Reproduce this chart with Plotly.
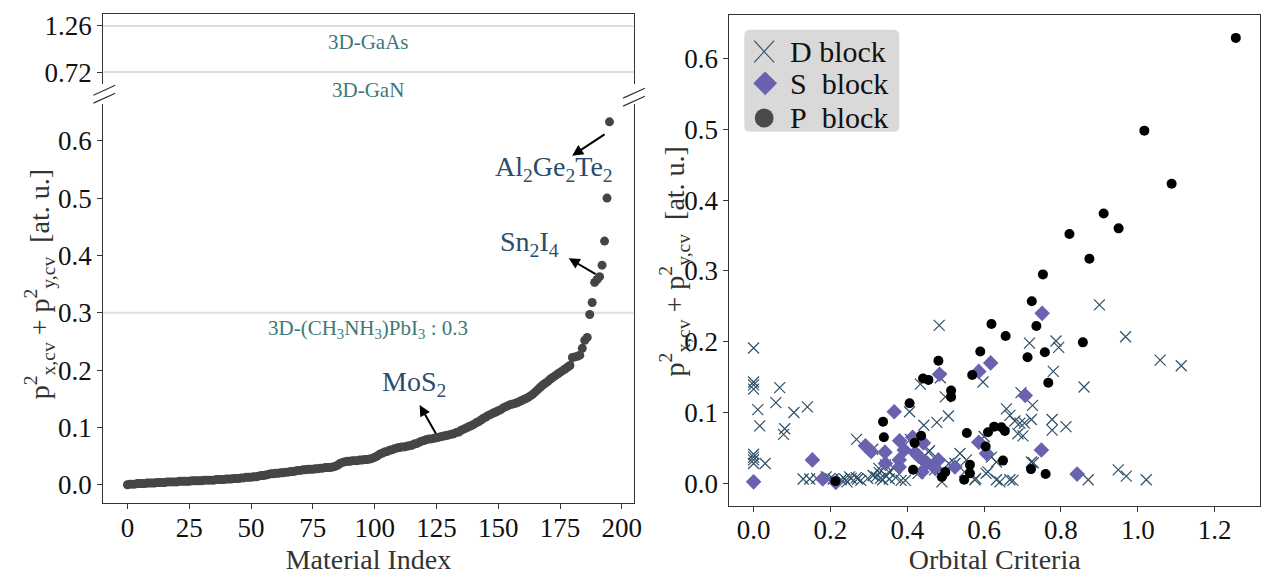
import plotly.graph_objects as go

# ---------------- data ----------------
curve_values = [
    0.000, 0.001, 0.001, 0.001, 0.002, 0.002, 0.002, 0.002, 0.003, 0.003,
    0.003, 0.003, 0.004, 0.004, 0.004, 0.004, 0.005, 0.005, 0.005, 0.005,
    0.005, 0.006, 0.006, 0.006, 0.006, 0.006, 0.007, 0.007, 0.007, 0.007,
    0.007, 0.008, 0.008, 0.008, 0.008, 0.008, 0.009, 0.009, 0.009, 0.009,
    0.010, 0.010, 0.010, 0.011, 0.011, 0.011, 0.012, 0.012, 0.013, 0.013,
    0.013, 0.014, 0.014, 0.015, 0.016, 0.016, 0.017, 0.018, 0.019, 0.019,
    0.020, 0.020, 0.021, 0.021, 0.022, 0.022, 0.023, 0.023, 0.024, 0.025,
    0.025, 0.026, 0.026, 0.027, 0.027, 0.027, 0.028, 0.028, 0.029, 0.029,
    0.030, 0.030, 0.030, 0.031, 0.032, 0.034, 0.037, 0.039, 0.040, 0.041,
    0.041, 0.042, 0.042, 0.042, 0.043, 0.043, 0.044, 0.044, 0.045, 0.046,
    0.048, 0.050, 0.053, 0.055, 0.057, 0.058, 0.060, 0.061, 0.063, 0.064,
    0.065, 0.066, 0.066, 0.067, 0.068, 0.069, 0.071, 0.072, 0.074, 0.076,
    0.077, 0.079, 0.080, 0.080, 0.081, 0.082, 0.083, 0.084, 0.085, 0.086,
    0.087, 0.088, 0.089, 0.091, 0.092, 0.095, 0.097, 0.099, 0.101, 0.103,
    0.105, 0.108, 0.110, 0.113, 0.116, 0.118, 0.121, 0.123, 0.125, 0.127,
    0.129, 0.131, 0.134, 0.136, 0.138, 0.140, 0.141, 0.142, 0.144, 0.146,
    0.148, 0.150, 0.152, 0.155, 0.158, 0.162, 0.166, 0.170, 0.174, 0.177,
    0.180, 0.184, 0.187, 0.190, 0.193, 0.196, 0.199, 0.202, 0.205, 0.208,
    0.222, 0.223, 0.224, 0.226, 0.238, 0.252, 0.257, 0.297, 0.318, 0.353,
    0.358, 0.363, 0.383, 0.425, 0.500, 0.633,
]
material_index = list(range(len(curve_values)))

p_x = [1.255, 1.017, 1.088, 0.911, 0.950, 0.822, 0.874, 0.753, 0.724, 0.619,
       0.736, 0.656, 0.857, 0.758, 0.590, 0.713, 0.481, 0.569, 0.441, 0.455,
       0.767, 0.514, 0.514, 0.406, 0.337, 0.339, 0.436, 0.419, 0.555, 0.610,
       0.626, 0.645, 0.654, 0.604, 0.649, 0.415, 0.563, 0.563, 0.499, 0.490,
       0.548, 0.722, 0.760, 0.213]
p_y = [0.629, 0.498, 0.423, 0.381, 0.360, 0.352, 0.317, 0.295, 0.257, 0.225,
       0.222, 0.208, 0.199, 0.185, 0.186, 0.178, 0.173, 0.153, 0.148, 0.146,
       0.142, 0.131, 0.122, 0.113, 0.087, 0.065, 0.067, 0.057, 0.071, 0.072,
       0.080, 0.079, 0.074, 0.052, 0.032, 0.019, 0.026, 0.014, 0.016, 0.009,
       0.005, 0.020, 0.013, 0.003]

s_x = [0.751, 0.617, 0.586, 0.484, 0.707, 0.366, 0.380, 0.392, 0.414, 0.442,
       0.421, 0.430, 0.342, 0.291, 0.306, 0.343, 0.379, 0.379, 0.451, 0.481,
       0.524, 0.438, 0.473, 0.586, 0.606, 0.749, 0.842, 0.153, 0.000, 0.214,
       0.180]
s_y = [0.240, 0.170, 0.158, 0.154, 0.124, 0.101, 0.060, 0.047, 0.065, 0.057,
       0.043, 0.038, 0.044, 0.053, 0.045, 0.028, 0.033, 0.023, 0.029, 0.033,
       0.023, 0.016, 0.021, 0.058, 0.042, 0.047, 0.013, 0.033, 0.002, 0.001,
       0.006]

d_x = [0.000, 0.000, 0.000, 0.000, 0.068, 0.058, 0.011, 0.140, 0.105, 0.016,
       0.081, 0.078, 0.000, 0.000, 0.000, 0.000, 0.030, 0.268, 0.310, 0.327,
       0.129, 0.146, 0.164, 0.189, 0.199, 0.207, 0.228, 0.237, 0.243, 0.254,
       0.250, 0.267, 0.271, 0.279, 0.297, 0.311, 0.319, 0.330, 0.336, 0.345,
       0.353, 0.370, 0.384, 0.395, 0.483, 0.718, 0.597, 0.434, 0.486, 0.499,
       0.696, 0.406, 0.507, 0.477, 0.443, 0.658, 0.667, 0.680, 0.693, 0.705,
       0.688, 0.701, 0.455, 0.537, 0.554, 0.619, 0.632, 0.610, 0.343, 0.352,
       0.490, 0.524, 0.576, 0.632, 0.641, 0.667, 0.675, 0.723, 0.900, 0.787,
       0.794, 0.968, 1.058, 1.113, 0.780, 0.860, 0.726, 0.723, 0.777, 0.777,
       0.813, 0.728, 0.871, 0.949, 0.970, 1.022, 0.428, 0.442, 0.471, 0.549,
       0.605, 0.578, 0.458, 0.508, 0.365, 0.326, 0.408, 0.600]
d_y = [0.191, 0.143, 0.139, 0.133, 0.135, 0.114, 0.104, 0.108, 0.100, 0.081,
       0.077, 0.069, 0.041, 0.037, 0.033, 0.028, 0.028, 0.062, 0.048, 0.015,
       0.006, 0.006, 0.007, 0.009, 0.007, 0.006, 0.005, 0.006, 0.002, 0.007,
       0.009, 0.008, 0.006, 0.004, 0.007, 0.011, 0.009, 0.007, 0.005, 0.010,
       0.006, 0.008, 0.004, 0.004, 0.223, 0.198, 0.143, 0.140, 0.149, 0.122,
       0.128, 0.101, 0.095, 0.086, 0.082, 0.105, 0.096, 0.088, 0.085, 0.085,
       0.070, 0.067, 0.044, 0.042, 0.033, 0.037, 0.030, 0.016, 0.026, 0.016,
       0.002, 0.028, 0.005, 0.005, 0.002, 0.005, 0.004, 0.030, 0.252, 0.201,
       0.192, 0.207, 0.174, 0.166, 0.158, 0.136, 0.110, 0.090, 0.090, 0.075,
       0.080, 0.029, 0.005, 0.019, 0.010, 0.005, 0.014, 0.023, 0.019, 0.016,
       0.014, 0.007, 0.046, 0.028, 0.021, 0.021, 0.062, 0.066]

ref_values_top = [1.26, 0.72]
ref_labels_top = ["3D-GaAs", "3D-GaN"]
ref_value_low = 0.3
ref_label_low = "3D-(CH<sub>3</sub>NH<sub>3</sub>)PbI<sub>3</sub> : 0.3"

legend_names = ["D block", "S\u00a0\u00a0block", "P\u00a0\u00a0block"]

# annotation geometry (text position, arrow head, arrow tail) in data units
ann_texts = ["Al<sub>2</sub>Ge<sub>2</sub>Te<sub>2</sub>", "Sn<sub>2</sub>I<sub>4</sub>", "MoS<sub>2</sub>"]
ann_text_pos = [(172.7, 0.551), (162.7, 0.421), (116.0, 0.176)]
ann_head = [(179.9, 0.574), (178.5, 0.395), (118.2, 0.139)]
ann_tail = [(193.6, 0.613), (190.0, 0.366), (125.1, 0.087)]

# ---------------- style ----------------
FONT = "Liberation Serif, Times New Roman, serif"
W, H = 1271, 575
AX = "#333333"
D_COL = "#2e5068"
S_COL = "#6a62ae"

fig = go.Figure()

fig.add_trace(go.Scatter(x=material_index, y=curve_values, mode="markers",
                         marker=dict(size=9, color="#454545"),
                         xaxis="x", yaxis="y", showlegend=False))

fig.add_trace(go.Scatter(x=d_x, y=d_y, mode="markers", name=legend_names[0],
                         marker=dict(symbol="x-thin", size=11, color=D_COL,
                                     line=dict(width=1.2, color=D_COL)),
                         xaxis="x3", yaxis="y3", showlegend=False))
fig.add_trace(go.Scatter(x=s_x, y=s_y, mode="markers", name=legend_names[1],
                         marker=dict(symbol="diamond", size=12, color=S_COL),
                         xaxis="x3", yaxis="y3", showlegend=False))
fig.add_trace(go.Scatter(x=p_x, y=p_y, mode="markers", name=legend_names[2],
                         marker=dict(symbol="circle", size=10, color="black"),
                         xaxis="x3", yaxis="y3", showlegend=False))


def px(X):
    return X / W


def py(Y):
    return 1 - Y / H


tickfont = dict(family=FONT, size=27, color="#111111")
common = dict(showline=True, linecolor=AX, linewidth=1.2, ticks="outside",
              ticklen=5, tickcolor=AX, showgrid=False, zeroline=False,
              tickfont=tickfont)
xcommon = dict(common, ticklabelstandoff=-5)

left_dom = [px(104), px(637.6)]
fig.update_layout(
    width=W, height=H, margin=dict(l=0, r=0, t=0, b=0),
    paper_bgcolor="white", plot_bgcolor="white",
    font=dict(family=FONT, color="#111111"),
    showlegend=False,
    xaxis=dict(domain=left_dom, anchor="y", range=[-9.75, 204.75],
               tickvals=[0, 25, 50, 75, 100, 125, 150, 175, 200],
               title=dict(text="Material Index", font=dict(family=FONT, size=28, color="#333333"),
                          standoff=10),
               **xcommon),
    yaxis=dict(domain=[py(505.5), py(102.4)], anchor="x", range=[-0.032, 0.665],
               tickvals=[0, 0.1, 0.2, 0.3, 0.4, 0.5, 0.6], tickformat=".1f",
               mirror=True, **common),
    xaxis2=dict(domain=left_dom, anchor="y2", range=[-9.75, 204.75], side="top",
                showline=True, linecolor=AX, linewidth=1.2, showticklabels=False,
                ticks="", showgrid=False, zeroline=False),
    yaxis2=dict(domain=[py(83), py(12)], anchor="x2", range=[0.578, 1.40],
                tickvals=ref_values_top, ticktext=["1.26", "0.72"],
                mirror=True, **common),
    xaxis3=dict(domain=[px(734), px(1268)], anchor="y3", range=[-0.063, 1.318],
                tickvals=[0, 0.2, 0.4, 0.6, 0.8, 1.0, 1.2], tickformat=".1f",
                mirror=True,
                title=dict(text="Orbital Criteria", font=dict(family=FONT, size=28, color="#333333"),
                           standoff=2),
                **xcommon),
    yaxis3=dict(domain=[py(508), py(13)], anchor="x3", range=[-0.0315, 0.6615],
                tickvals=[0, 0.1, 0.2, 0.3, 0.4, 0.5, 0.6], tickformat=".1f",
                mirror=True, **common),
)

# reference lines
line_col = "#d3e3e3"
for v in ref_values_top:
    fig.add_shape(type="line", xref="x2 domain", yref="y2", x0=0, x1=1, y0=v, y1=v,
                  line=dict(color=line_col, width=2), layer="below")
fig.add_shape(type="line", xref="x domain", yref="y", x0=0, x1=1,
              y0=ref_value_low, y1=ref_value_low,
              line=dict(color=line_col, width=2), layer="below")

lab_col = "#3e7878"
fig.add_annotation(xref="x2 domain", yref="y2", x=0.5, y=ref_values_top[0], text=ref_labels_top[0],
                   showarrow=False, yanchor="top", yshift=-2,
                   font=dict(family=FONT, size=21, color=lab_col))
fig.add_annotation(xref="x2 domain", yref="y2", x=0.5, y=ref_values_top[1], text=ref_labels_top[1],
                   showarrow=False, yanchor="top", yshift=-4,
                   font=dict(family=FONT, size=21, color=lab_col))
fig.add_annotation(xref="x domain", yref="y", x=0.5, y=ref_value_low, text=ref_label_low,
                   showarrow=False, yanchor="top", yshift=-1,
                   font=dict(family=FONT, size=21, color=lab_col))

# labelled arrows
txt_col = "#2b4d6b"
for t, (tx, ty), (hx, hy), (sx, sy) in zip(ann_texts, ann_text_pos, ann_head, ann_tail):
    fig.add_annotation(xref="x", yref="y", x=tx, y=ty, text=t, showarrow=False,
                       font=dict(family=FONT, size=28, color=txt_col))
    fig.add_annotation(xref="x", yref="y", x=hx, y=hy, ax=sx, ay=sy,
                       axref="x", ayref="y", text="", showarrow=True,
                       arrowhead=2, arrowsize=1.1, arrowwidth=2, arrowcolor="black")

# y-axis titles
ytitle = "p<sup>2</sup><sub>x,cv</sub> + p<sup>2</sup><sub>y,cv</sub>  [at. u.]"
for cx, cy in [(40, 285), (679, 262)]:
    fig.add_annotation(xref="paper", yref="paper", x=px(cx), y=py(cy), text=ytitle,
                       textangle=-90, showarrow=False, xanchor="center", yanchor="middle",
                       font=dict(family=FONT, size=28, color="#333333"))

# broken-axis marks
for cx, cy in [(105, 89), (105, 97), (638, 92), (638, 100)]:
    fig.add_shape(type="line", xref="paper", yref="paper",
                  x0=px(cx - 11), y0=py(cy + 5), x1=px(cx + 11), y1=py(cy - 5),
                  line=dict(color=AX, width=1.2))

# ---------------- legend box (drawn) ----------------
lx0, ly0, lx1, ly1, r = 749, 28, 905, 131, 6
pts = [("M", lx0 + r, ly0), ("L", lx1 - r, ly0), ("Q", lx1, ly0, lx1, ly0 + r),
       ("L", lx1, ly1 - r), ("Q", lx1, ly1, lx1 - r, ly1), ("L", lx0 + r, ly1),
       ("Q", lx0, ly1, lx0, ly1 - r), ("L", lx0, ly0 + r), ("Q", lx0, ly0, lx0 + r, ly0)]
path = ""
for p in pts:
    if p[0] == "Q":
        path += f"Q {px(p[1])},{py(p[2])} {px(p[3])},{py(p[4])} "
    else:
        path += f"{p[0]} {px(p[1])},{py(p[2])} "
path += "Z"
fig.add_shape(type="path", xref="paper", yref="paper", path=path,
              fillcolor="#d9d9d9", line=dict(width=0), layer="above")

row_y = [50, 82, 117]
mx = 769
# D marker (thin x)
for (a, b, c, d) in [(-10, -11, 10, 11), (-10, 11, 10, -11)]:
    fig.add_shape(type="line", xref="paper", yref="paper",
                  x0=px(mx + a), y0=py(row_y[0] + b), x1=px(mx + c), y1=py(row_y[0] + d),
                  line=dict(color=D_COL, width=1.1))
# S marker (diamond)
dy = row_y[1]
fig.add_shape(type="path", xref="paper", yref="paper",
              path=f"M {px(mx + 1)},{py(dy - 12)} L {px(mx + 13)},{py(dy)} "
                   f"L {px(mx + 1)},{py(dy + 12)} L {px(mx - 11)},{py(dy)} Z",
              fillcolor=S_COL, line=dict(width=0))
# P marker (circle)
cy = row_y[2]
fig.add_shape(type="circle", xref="paper", yref="paper",
              x0=px(mx - 9.5), y0=py(cy + 9.5), x1=px(mx + 9.5), y1=py(cy - 9.5),
              fillcolor="#4a4a4a", line=dict(width=0))
for name, yy in zip(legend_names, row_y):
    fig.add_annotation(xref="paper", yref="paper", x=px(793), y=py(yy), text=name,
                       showarrow=False, xanchor="left", yanchor="middle",
                       font=dict(family=FONT, size=30, color="#111111"))

fig.write_html("out.html")
